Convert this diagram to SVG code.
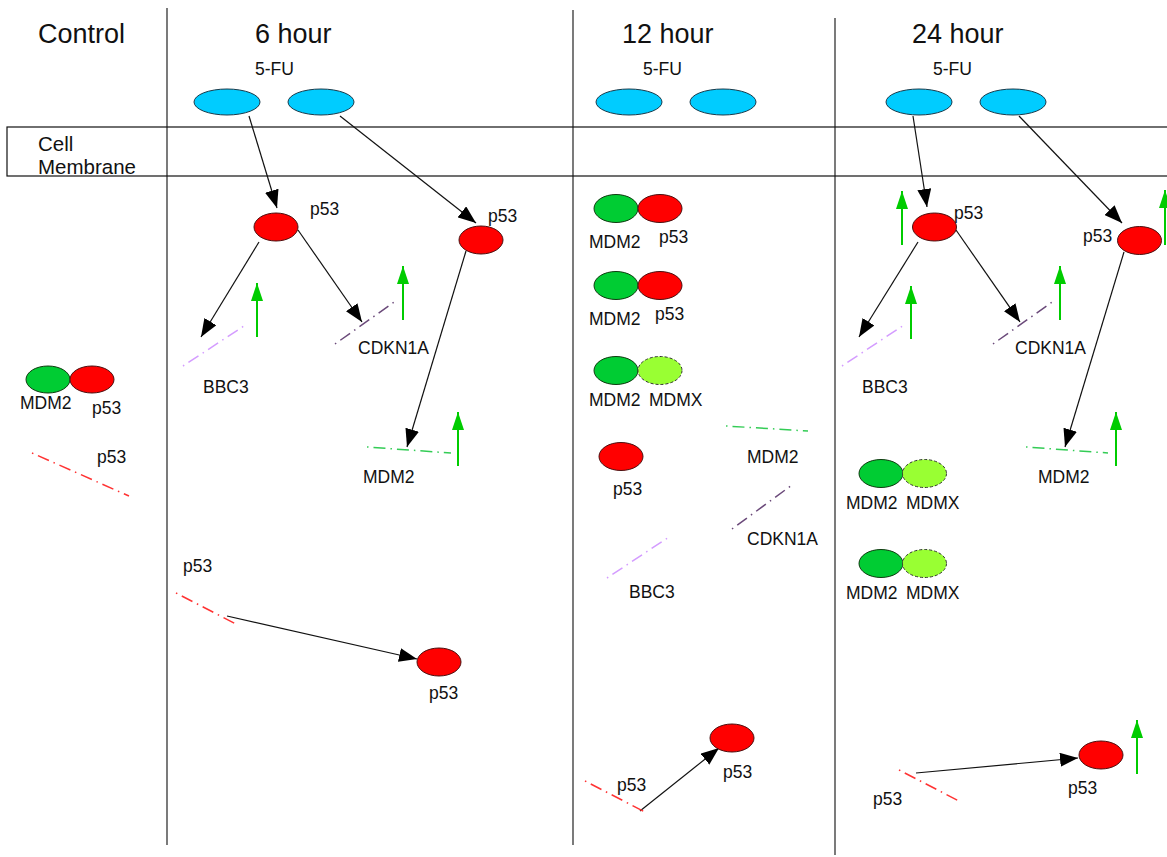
<svg xmlns="http://www.w3.org/2000/svg" width="1167" height="857" viewBox="0 0 1167 857">
<style>
text{font-family:"Liberation Sans",Arial,sans-serif;fill:#111}
.h{font-size:27px}
.fu{font-size:18px}
.mem{font-size:20.5px}
.lb{font-size:17.5px}
.grid{stroke:#333;stroke-width:1.3;fill:none}
.cy{fill:#00ccff;stroke:#1a3a4a;stroke-width:1}
.rd{fill:#ff0000;stroke:#4a1010;stroke-width:1}
.gn{fill:#00cc33;stroke:#103a10;stroke-width:1}
.mx{fill:#99ff33;stroke:#333;stroke-width:1;stroke-dasharray:3 2}
.arr{stroke:#111;stroke-width:1.2;fill:none;marker-end:url(#ah)}
.up{stroke:#00cc00;stroke-width:2;fill:none;marker-end:url(#gh)}
.dl{fill:none;stroke-width:1.5;stroke-dasharray:1.5 5 12 5}
.vio{stroke:#d49cff}
.pur{stroke:#6b4a7a}
.grn{stroke:#33cc55}
.red{stroke:#ff3333}
</style>
<defs>
<marker id="ah" viewBox="0 0 18 14" refX="18" refY="7" markerWidth="18" markerHeight="14" markerUnits="userSpaceOnUse" orient="auto"><path d="M0,0 L18,7 L0,14 z" fill="#000"/></marker>
<marker id="gh" viewBox="0 0 18 12" refX="18" refY="6" markerWidth="18" markerHeight="12" markerUnits="userSpaceOnUse" orient="auto"><path d="M0,0 L18,6 L0,12 z" fill="#00cc00"/></marker>
</defs>
<rect width="1167" height="857" fill="#fff"/>
<g id="frame">
<line class="grid" x1="167" y1="8" x2="167" y2="845"/>
<line class="grid" x1="573" y1="10" x2="573" y2="845"/>
<line class="grid" x1="835" y1="18" x2="835" y2="855"/>
<rect x="7" y="127" width="1175" height="49" fill="none" stroke="#111" stroke-width="1.2"/>
<text class="mem" x="38" y="151">Cell</text>
<text class="mem" x="38" y="174">Membrane</text>
<text class="h" x="38" y="43">Control</text>
<text class="h" x="255" y="43">6 hour</text>
<text class="h" x="622" y="43">12 hour</text>
<text class="h" x="912" y="43">24 hour</text>
<text class="fu" x="255" y="75" textLength="39" lengthAdjust="spacingAndGlyphs">5-FU</text>
<text class="fu" x="643" y="75" textLength="39" lengthAdjust="spacingAndGlyphs">5-FU</text>
<text class="fu" x="933" y="75" textLength="39" lengthAdjust="spacingAndGlyphs">5-FU</text>
</g>
<g id="connectors">
<line class="arr" x1="249" y1="116" x2="277" y2="208"/>
<line class="arr" x1="340" y1="116" x2="476" y2="223"/>
<line class="arr" x1="259" y1="242" x2="201" y2="337"/>
<line class="arr" x1="298" y1="230" x2="362" y2="322"/>
<line class="arr" x1="466" y1="251" x2="407" y2="447"/>
<line class="arr" x1="227" y1="616" x2="417" y2="659"/>
<line class="arr" x1="640" y1="811" x2="719" y2="748"/>
<line class="arr" x1="913" y1="116" x2="927" y2="207"/>
<line class="arr" x1="1019" y1="116" x2="1122" y2="223"/>
<line class="arr" x1="918" y1="242" x2="859" y2="337"/>
<line class="arr" x1="956" y1="230" x2="1020" y2="322"/>
<line class="arr" x1="1124" y1="252" x2="1065" y2="447"/>
<line class="arr" x1="916" y1="773" x2="1078" y2="758"/>
<line class="up" x1="257" y1="337" x2="257" y2="283"/>
<line class="up" x1="403" y1="320" x2="403" y2="266"/>
<line class="up" x1="458" y1="466" x2="458" y2="412"/>
<line class="up" x1="902" y1="245" x2="902" y2="191"/>
<line class="up" x1="1165" y1="245" x2="1165" y2="190"/>
<line class="up" x1="911" y1="339" x2="911" y2="286"/>
<line class="up" x1="1060" y1="320" x2="1060" y2="266"/>
<line class="up" x1="1116" y1="466" x2="1116" y2="412"/>
<line class="up" x1="1137" y1="774" x2="1137" y2="720"/>
</g>
<g id="genes">
<line class="dl vio" x1="183" y1="366" x2="247" y2="324"/>
<line class="dl pur" x1="335" y1="344" x2="397" y2="300"/>
<line class="dl grn" x1="367" y1="447" x2="451" y2="453"/>
<line class="dl red" x1="32" y1="453" x2="129" y2="496"/>
<line class="dl red" x1="176" y1="593" x2="236" y2="624"/>
<line class="dl grn" x1="726" y1="426" x2="808" y2="431"/>
<line class="dl pur" x1="732" y1="529" x2="792" y2="485"/>
<line class="dl vio" x1="607" y1="578" x2="669" y2="537"/>
<line class="dl red" x1="585" y1="781" x2="645" y2="812"/>
<line class="dl vio" x1="842" y1="366" x2="904" y2="325"/>
<line class="dl pur" x1="993" y1="344" x2="1055" y2="300"/>
<line class="dl grn" x1="1026" y1="447" x2="1108" y2="453"/>
<line class="dl red" x1="899" y1="770" x2="959" y2="801"/>
</g>
<g id="drug-6h"><ellipse class="cy" cx="227" cy="102" rx="33" ry="13"/><ellipse class="cy" cx="321" cy="102" rx="33" ry="13"/></g>
<g id="drug-12h"><ellipse class="cy" cx="629" cy="102" rx="33" ry="13"/><ellipse class="cy" cx="723" cy="102" rx="33" ry="13"/></g>
<g id="drug-24h"><ellipse class="cy" cx="919" cy="102" rx="33" ry="13"/><ellipse class="cy" cx="1013" cy="102" rx="33" ry="13"/></g>
<g id="control">
<ellipse class="gn" cx="48" cy="379.5" rx="22" ry="13.5"/><ellipse class="rd" cx="92" cy="379.5" rx="22" ry="13.5"/>
<text class="lb" x="20" y="409">MDM2</text><text class="lb" x="92" y="414">p53</text>
<text class="lb" x="97" y="463">p53</text>
</g>
<g id="h6">
<ellipse class="rd" cx="276" cy="227" rx="22" ry="14"/><text class="lb" x="310" y="215">p53</text>
<ellipse class="rd" cx="481" cy="240" rx="22" ry="14"/><text class="lb" x="488" y="222">p53</text>
<text class="lb" x="203" y="393">BBC3</text>
<text class="lb" x="358" y="354">CDKN1A</text>
<text class="lb" x="363" y="483">MDM2</text>
<text class="lb" x="183" y="572">p53</text>
<ellipse class="rd" cx="439" cy="662" rx="22" ry="14"/><text class="lb" x="429" y="699">p53</text>
</g>
<g id="h12">
<ellipse class="gn" cx="616" cy="208.5" rx="22" ry="14"/><ellipse class="rd" cx="660" cy="208.5" rx="22" ry="14"/>
<text class="lb" x="589" y="248">MDM2</text><text class="lb" x="659" y="243">p53</text>
<ellipse class="gn" cx="616" cy="285.5" rx="22" ry="14"/><ellipse class="rd" cx="660" cy="285.5" rx="22" ry="14"/>
<text class="lb" x="589" y="325">MDM2</text><text class="lb" x="655" y="320">p53</text>
<ellipse class="gn" cx="616" cy="370.5" rx="22" ry="14"/><ellipse class="mx" cx="660" cy="370.5" rx="22" ry="14"/>
<text class="lb" x="589" y="406">MDM2</text><text class="lb" x="649" y="406">MDMX</text>
<ellipse class="rd" cx="621" cy="456.5" rx="22" ry="14"/><text class="lb" x="613" y="495">p53</text>
<text class="lb" x="747" y="463">MDM2</text>
<text class="lb" x="747" y="545">CDKN1A</text>
<text class="lb" x="629" y="598">BBC3</text>
<ellipse class="rd" cx="732" cy="738" rx="22" ry="14"/><text class="lb" x="723" y="778">p53</text>
<text class="lb" x="617" y="791">p53</text>
</g>
<g id="h24">
<ellipse class="rd" cx="934.5" cy="227" rx="22" ry="14"/><text class="lb" x="954" y="219">p53</text>
<ellipse class="rd" cx="1139.5" cy="240.5" rx="22" ry="14"/><text class="lb" x="1083" y="242">p53</text>
<text class="lb" x="862" y="393">BBC3</text>
<text class="lb" x="1015" y="354">CDKN1A</text>
<text class="lb" x="1038" y="483">MDM2</text>
<ellipse class="gn" cx="881" cy="473.5" rx="22" ry="14"/><ellipse class="mx" cx="924.5" cy="473.5" rx="22" ry="14"/>
<text class="lb" x="846" y="509">MDM2</text><text class="lb" x="906" y="509">MDMX</text>
<ellipse class="gn" cx="881" cy="563.5" rx="22" ry="14"/><ellipse class="mx" cx="924.5" cy="563.5" rx="22" ry="14"/>
<text class="lb" x="846" y="599">MDM2</text><text class="lb" x="906" y="599">MDMX</text>
<text class="lb" x="873" y="805">p53</text>
<ellipse class="rd" cx="1101" cy="755" rx="22" ry="14"/><text class="lb" x="1068" y="794">p53</text>
</g>
</svg>
